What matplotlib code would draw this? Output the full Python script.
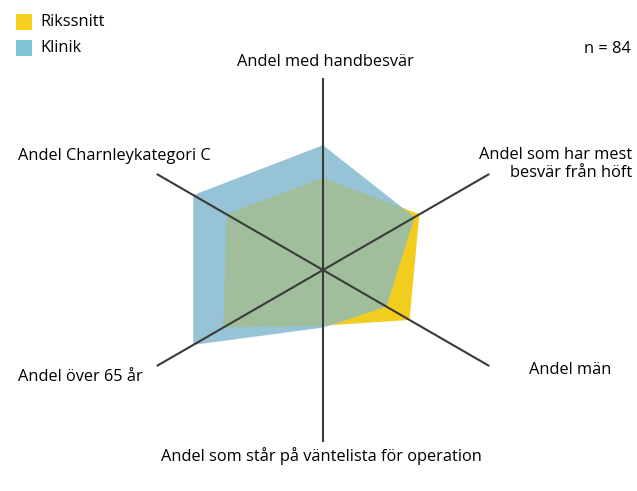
import numpy as np
import matplotlib
matplotlib.use("Agg")
import matplotlib.pyplot as plt
from matplotlib.patches import Polygon, Rectangle

plt.rcParams["font.family"] = ["Open Sans", "DejaVu Sans"]

# Axis order: clockwise from the top
categories = [
    "Andel med handbesvär",
    "Andel som har mest\nbesvär från höft",
    "Andel män",
    "Andel som står på väntelista för operation",
    "Andel över 65 år",
    "Andel Charnleykategori C",
]
rikssnitt = [0.48, 0.58, 0.52, 0.29, 0.60, 0.58]
klinik = [0.65, 0.55, 0.38, 0.30, 0.78, 0.78]
n_text = "n = 84"

YELLOW = "#F2CD1E"
BLUE = "#96C4D6"
OVERLAP = "#A0BE9C"

W, H = 637, 491
cx, cy, R = 323, 270, 192

fig = plt.figure(figsize=(W / 100, H / 100), dpi=100)
ax = fig.add_axes([0, 0, 1, 1])
ax.set_xlim(0, W)
ax.set_ylim(H, 0)
ax.axis("off")

angles = np.deg2rad([90, 30, -30, -90, -150, 150])
# spoke lengths; the bottom one stops short of its label
spoke_len = [R, R, R, 172, R, R]


def verts(vals):
    v = np.asarray(vals)
    return np.column_stack([cx + R * v * np.cos(angles), cy - R * v * np.sin(angles)])


p_r = Polygon(verts(rikssnitt), closed=True, facecolor=YELLOW, edgecolor="none", zorder=1)
p_k = Polygon(verts(klinik), closed=True, facecolor=BLUE, edgecolor="none", zorder=2)
ax.add_patch(p_r)
ax.add_patch(p_k)
# overlap area: rikssnitt clipped to the klinik shape
p_o = Polygon(verts(rikssnitt), closed=True, facecolor=OVERLAP, edgecolor="none", zorder=3)
ax.add_patch(p_o)
p_o.set_clip_path(p_k)

for a, ln in zip(angles, spoke_len):
    ax.plot([cx, cx + ln * np.cos(a)], [cy, cy - ln * np.sin(a)],
            color="#3a3a3a", lw=1.5, zorder=4, solid_capstyle="butt")

fs = 11.8
ax.text(325, 62, categories[0], ha="center", va="center", fontsize=fs)
ax.text(632, 164, categories[1], ha="right", va="center", fontsize=fs, linespacing=1.2)
ax.text(529, 370, categories[2], ha="left", va="center", fontsize=fs)
ax.text(321, 456, categories[3], ha="center", va="center", fontsize=fs)
ax.text(18, 377, categories[4], ha="left", va="center", fontsize=fs)
ax.text(18, 156, categories[5], ha="left", va="center", fontsize=fs)
ax.text(631, 49, n_text, ha="right", va="center", fontsize=fs)

# legend
for i, (lab, col) in enumerate([("Rikssnitt", "#F5CF1E"), ("Klinik", "#7CC6D3")]):
    y = 22 + 26 * i
    ax.add_patch(Rectangle((16, y - 8), 16, 16, facecolor=col, edgecolor="none"))
    ax.text(40, y, lab, ha="left", va="center", fontsize=fs)

fig.savefig("out.png", dpi=100)
